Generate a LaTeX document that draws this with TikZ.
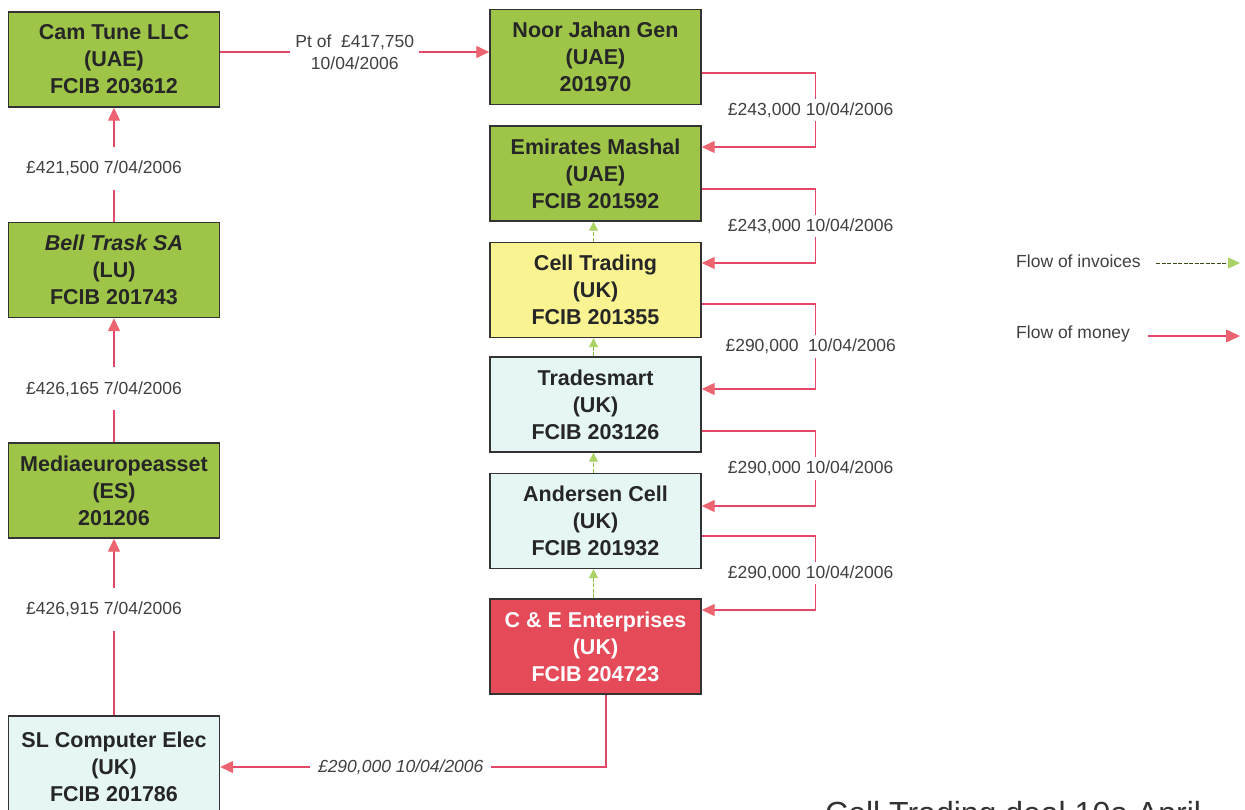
\documentclass[tikz,border=0pt]{standalone}
\usepackage{fontspec}
\setmainfont{Liberation Sans}
\usetikzlibrary{arrows.meta}
\definecolor{boxgreen}{RGB}{158,197,72}
\definecolor{boxyellow}{RGB}{250,243,145}
\definecolor{boxcyan}{RGB}{229,246,245}
\definecolor{boxred}{RGB}{228,74,88}
\definecolor{moneyred}{RGB}{228,72,104}
\definecolor{moneyhead}{RGB}{236,100,112}
\definecolor{invgreen}{RGB}{140,190,70}
\definecolor{invhead}{RGB}{170,210,100}
\begin{document}
\begin{tikzpicture}[x=1pt,y=-1pt,
  box/.style={draw=black!80, line width=1.4pt, minimum width=211pt, minimum height=95pt,
    inner sep=0pt, align=center, text=black!85, font=\bfseries\fontsize{21.5}{27}\selectfont},
  money/.style={draw=moneyred, line width=1.3pt,
    -{Triangle[length=13pt,width=12pt,color=moneyhead]}},
  invoice/.style={draw=invgreen, line width=1pt, dash pattern=on 4pt off 1.5pt,
    -{Triangle[length=9pt,width=9pt,color=invhead]}},
  lbl/.style={fill=white, inner xsep=5pt, inner ysep=4pt, text=black!75,
    font=\fontsize{17.5}{22}\selectfont, align=center},
  lblv/.style={lbl, inner ysep=14pt},
  legtxt/.style={inner sep=0pt, text=black!75, font=\fontsize{17.5}{22}\selectfont}
]
\useasboundingbox (0,0) rectangle (1245,809);

% left column
\node[box, fill=boxgreen] (cam) at (114,59.5) {Cam Tune LLC\\(UAE)\\FCIB 203612};
\node[box, fill=boxgreen] (bell) at (114,270) {\itshape Bell Trask SA\\(LU)\\FCIB 201743};
\node[box, fill=boxgreen] (media) at (114,490.5) {Mediaeuropeasset\\(ES)\\201206};
\node[box, fill=boxcyan, minimum height=102pt] (sl) at (114,767) {SL Computer Elec\\(UK)\\FCIB 201786};

% right column
\node[box, fill=boxgreen] (noor) at (595.5,57) {Noor Jahan Gen\\(UAE)\\201970};
\node[box, fill=boxgreen] (emir) at (595.5,173.5) {Emirates Mashal\\(UAE)\\FCIB 201592};
\node[box, fill=boxyellow] (cell) at (595.5,290) {Cell Trading\\(UK)\\FCIB 201355};
\node[box, fill=boxcyan] (trade) at (595.5,404.5) {Tradesmart\\(UK)\\FCIB 203126};
\node[box, fill=boxcyan] (ander) at (595.5,521) {Andersen Cell\\(UK)\\FCIB 201932};
\node[box, fill=boxred, text=white] (ce) at (595.5,646.5) {C \& E Enterprises\\(UK)\\FCIB 204723};

% money, left column
\draw[money] (bell.north) -- node[lblv, pos=0.47, xshift=-10pt]{£421,500 7/04/2006} (cam.south);
\draw[money] (media.north) -- node[lblv, pos=0.43, xshift=-10pt]{£426,165 7/04/2006} (bell.south);
\draw[money] (sl.north) -- node[lblv, pos=0.60, xshift=-10pt]{£426,915 7/04/2006} (media.south);

% money, top
\draw[money] ([yshift=7.5pt]cam.east) -- node[lbl]{Pt of\ \ £417,750\\10/04/2006} ([yshift=5pt]noor.west);

% money, right brackets
\draw[money] ([yshift=-16pt]noor.east) -- ++(114,0) |- node[lbl, pos=0.25, xshift=-5pt]{£243,000 10/04/2006} ([yshift=26.5pt]emir.east);
\draw[money] ([yshift=-15.5pt]emir.east) -- ++(114,0) |- node[lbl, pos=0.25, xshift=-5pt]{£243,000 10/04/2006} ([yshift=27pt]cell.east);
\draw[money] ([yshift=-14pt]cell.east) -- ++(114,0) |- node[lbl, pos=0.25, xshift=-5pt]{£290,000\ \ 10/04/2006} ([yshift=15.5pt]trade.east);
\draw[money] ([yshift=-26.5pt]trade.east) -- ++(114,0) |- node[lbl, pos=0.25, xshift=-5pt]{£290,000 10/04/2006} ([yshift=15pt]ander.east);
\draw[money] ([yshift=-15pt]ander.east) -- ++(114,0) |- node[lbl, pos=0.25, xshift=-5pt]{£290,000 10/04/2006} ([yshift=36.5pt]ce.east);

% money, bottom
\draw[money] ([xshift=10.5pt]ce.south) |- node[lbl, pos=0.766, inner xsep=8pt, font=\itshape\fontsize{17.5}{22}\selectfont]{£290,000 10/04/2006} (sl.east);

% invoices
\draw[invoice] ([xshift=-2pt]ce.north) -- ([xshift=-2pt]ander.south);
\draw[invoice] ([xshift=-2pt]ander.north) -- ([xshift=-2pt]trade.south);
\draw[invoice] ([xshift=-2pt]trade.north) -- ([xshift=-2pt]cell.south);
\draw[invoice] ([xshift=-2pt]cell.north) -- ([xshift=-2pt]emir.south);

% legend
\node[legtxt, anchor=west] (leginv) at (1016,261) {Flow of invoices};
\node[legtxt, anchor=west] (legmon) at (1016,334) {Flow of money};
\coordinate (invA) at (1156,263);
\coordinate (invB) at (1240,263);
\coordinate (monA) at (1148,336);
\coordinate (monB) at (1240,336);
\draw[invoice, draw=black!60!invgreen, -{Triangle[length=12pt,width=11pt,color=invhead]}] (invA) -- (invB);
\draw[money, -{Triangle[length=14pt,width=13pt,color=moneyhead]}] (monA) -- (monB);

% title
\node[anchor=base west, inner sep=0pt, text=black!80, font=\fontsize{32}{36}\selectfont] (title) at (825,824) {Cell Trading deal 10a April};
\end{tikzpicture}
\end{document}
